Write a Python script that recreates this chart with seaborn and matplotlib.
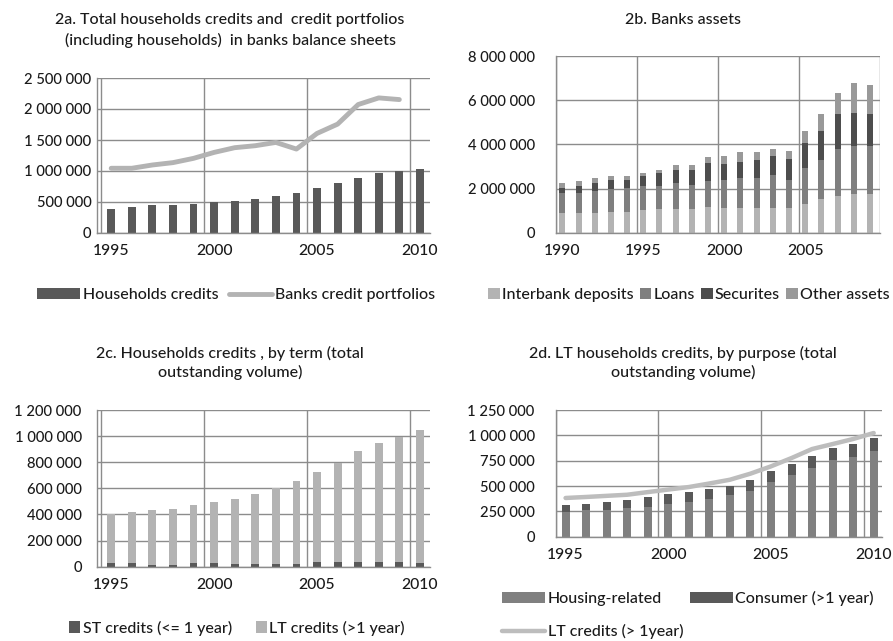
import matplotlib
matplotlib.use("Agg")
import matplotlib.pyplot as plt
import seaborn as sns
import numpy as np
import pandas as pd
from matplotlib.patches import Patch
from matplotlib.lines import Line2D
from matplotlib.ticker import FuncFormatter

# ---------------- data ----------------
years_a = list(range(1995, 2011))
households_credits = [391000, 418000, 444000, 444000, 471000, 508000, 519000, 546000,
                      594000, 653000, 723000, 808000, 883000, 963000, 1001000, 1033000]
years_line_a = list(range(1995, 2010))
banks_credit_portfolios = [1044000, 1044000, 1097000, 1135000, 1204000, 1300000, 1376000,
                           1408000, 1461000, 1354000, 1606000, 1756000, 2072000, 2179000, 2152000]

years_b = list(range(1990, 2010))
interbank = [0.89, 0.89, 0.89, 0.97, 0.97, 1.05, 1.09, 1.09, 1.09, 1.17,
             1.13, 1.13, 1.13, 1.13, 1.13, 1.31, 1.53, 1.68, 1.76, 1.76]
loans = [0.94, 0.94, 1.02, 1.01, 1.06, 1.06, 1.02, 1.17, 1.09, 1.16,
         1.28, 1.35, 1.35, 1.50, 1.28, 1.61, 1.75, 2.11, 2.18, 2.18]
securities = [0.19, 0.28, 0.35, 0.43, 0.38, 0.45, 0.60, 0.60, 0.68, 0.84,
              0.72, 0.72, 0.80, 0.86, 0.93, 1.17, 1.35, 1.58, 1.50, 1.43]
other_assets = [0.24, 0.22, 0.22, 0.15, 0.15, 0.15, 0.15, 0.23, 0.23, 0.25,
                0.36, 0.44, 0.36, 0.30, 0.36, 0.54, 0.75, 0.95, 1.36, 1.31]

years_c = list(range(1995, 2011))
st_credits = [26000, 26000, 16000, 16000, 26000, 26000, 24000, 24000,
              24000, 24000, 39000, 37000, 39000, 37000, 39000, 26000]
lt_credits = [380000, 395000, 416000, 428000, 444000, 470000, 495000, 533000,
              576000, 630000, 689000, 760000, 850000, 911000, 957000, 1021000]

years_d = list(range(1995, 2011))
housing_related = [243000, 260000, 266000, 283000, 293000, 326000, 342000, 375000,
                   408000, 454000, 536000, 612000, 678000, 753000, 786000, 849000]
consumer = [66000, 66000, 76000, 76000, 98000, 92000, 96000, 95000,
            89000, 108000, 109000, 108000, 121000, 122000, 128000, 125000]
lt_line = [382000, 392000, 403000, 414000, 440000, 465000, 490000, 525000,
           562000, 622000, 694000, 776000, 865000, 914000, 964000, 1023000]

# ---------------- style ----------------
sns.set_theme(style="white")
plt.rcParams['font.family'] = ['Lato', 'DejaVu Sans']
plt.rcParams['font.weight'] = 'medium'
plt.rcParams['font.size'] = 11

GRID = '#8c8c8c'
TXT = '#1a1a1a'
FS = 11.5      # titles / legends
FSX = 11.3     # x tick labels
FSY = 10.6     # y tick labels

fig = plt.figure(figsize=(8.93, 6.41), dpi=100)
W, H = 893, 641


def ax_at(l, r, t, b):
    return fig.add_axes([l / W, 1 - b / H, (r - l) / W, (b - t) / H])


def fmt(v, pos=None):
    return f"{int(round(v)):,}".replace(",", " ")


def style_axis(ax, xlim, grid_years, grid_off, label_years, yticks, ypad):
    ax.set_xlim(*xlim)
    ax.set_ylim(yticks[0], yticks[-1])
    ax.set_yticks(yticks)
    ax.yaxis.set_major_formatter(FuncFormatter(fmt))
    ax.set_xticks([g - grid_off for g in grid_years])
    ax.set_xticklabels([])
    ax.set_xticks(label_years, minor=True)
    ax.set_xticklabels([str(y) for y in label_years], minor=True)
    ax.tick_params(axis='x', which='major', length=5, width=1, color=GRID, direction='out')
    ax.tick_params(axis='x', which='minor', length=0, pad=8, labelsize=FSX, labelcolor=TXT)
    ax.tick_params(axis='y', which='major', length=3, width=1, color=GRID, direction='out',
                   pad=ypad, labelsize=FSY, labelcolor=TXT)
    ax.grid(True, which='major', color=GRID, lw=1.0)
    ax.set_axisbelow(True)
    for s in ['top', 'right']:
        ax.spines[s].set_visible(False)
    for s in ['left', 'bottom']:
        ax.spines[s].set_color(GRID)
        ax.spines[s].set_linewidth(1.0)
    ax.set_xlabel('')
    ax.set_ylabel('')


def bars(ax, x, y, color, width):
    sns.barplot(x=x, y=y, native_scale=True, width=width, color=color, saturation=1,
                errorbar=None, linewidth=0, ax=ax)


# ---------------- 2a ----------------
ax1 = ax_at(97, 430, 78, 233)
bars(ax1, years_a, households_credits, '#595959', 0.38)
sns.lineplot(x=years_line_a, y=banks_credit_portfolios, color='#b3b3b3', lw=3.5, ax=ax1,
             legend=False)
style_axis(ax1, (1994.31, 2010.49), [1995, 2000, 2005, 2010], 0.49,
           [1995, 2000, 2005, 2010], np.arange(0, 2500001, 500000), 1)
fig.text(230 / W, 1 - 30.5 / H,
         "2a. Total households credits and  credit portfolios\n(including households)  in banks balance sheets",
         ha='center', va='center', fontsize=FS, color=TXT, linespacing=1.45)
h1 = [Patch(facecolor='#595959', edgecolor='none'),
      Line2D([0], [0], color='#b3b3b3', lw=3.5)]
fig.legend(h1, ["Households credits", "Banks credit portfolios"], loc='center',
           bbox_to_anchor=(236 / W, 1 - 295 / H), ncol=2, frameon=False, fontsize=FS,
           handlelength=2.7, handleheight=0.7, handletextpad=0.15, columnspacing=0.7,
           borderpad=0, labelcolor=TXT)

# ---------------- 2b ----------------
ax2 = ax_at(555.7, 880, 56, 233)
ib = np.array(interbank) * 1e6
ln = np.array(loans) * 1e6
se = np.array(securities) * 1e6
ot = np.array(other_assets) * 1e6
bars(ax2, years_b, ib + ln + se + ot, '#999999', 0.37)
bars(ax2, years_b, ib + ln + se, '#4d4d4d', 0.37)
bars(ax2, years_b, ib + ln, '#7f7f7f', 0.37)
bars(ax2, years_b, ib, '#b3b3b3', 0.37)
style_axis(ax2, (1989.59, 2009.62), [1990, 1995, 2000, 2005, 2010], 0.41,
           [1990, 1995, 2000, 2005], np.arange(0, 8000001, 2000000), 12)
fig.text(683 / W, 1 - 20 / H, "2b. Banks assets", ha='center', va='center',
         fontsize=FS, color=TXT)
h2 = [Patch(facecolor=c, edgecolor='none') for c in ['#b3b3b3', '#7f7f7f', '#4d4d4d', '#999999']]
fig.legend(h2, ["Interbank deposits", "Loans", "Securites", "Other assets"], loc='center',
           bbox_to_anchor=(689 / W, 1 - 295 / H), ncol=4, frameon=False, fontsize=FS,
           handlelength=0.7, handleheight=0.7, handletextpad=0.15, columnspacing=0.4,
           borderpad=0, labelcolor=TXT)

# ---------------- 2c ----------------
ax3 = ax_at(97, 430, 410, 566.7)
tc = np.array(st_credits) + np.array(lt_credits)
bars(ax3, years_c, tc, '#b3b3b3', 0.38)
bars(ax3, years_c, st_credits, '#595959', 0.38)
style_axis(ax3, (1994.31, 2010.49), [1995, 2000, 2005, 2010], 0.49,
           [1995, 2000, 2005, 2010], np.arange(0, 1200001, 200000), 8)
fig.text(230 / W, 1 - 363 / H,
         "2c. Households credits , by term (total\noutstanding volume)",
         ha='center', va='center', fontsize=FS, color=TXT, linespacing=1.4)
h3 = [Patch(facecolor='#595959', edgecolor='none'), Patch(facecolor='#b3b3b3', edgecolor='none')]
fig.legend(h3, ["ST credits (<= 1 year)", "LT credits (>1 year)"], loc='center',
           bbox_to_anchor=(237 / W, 1 - 628 / H), ncol=2, frameon=False, fontsize=FS,
           handlelength=0.7, handleheight=0.7, handletextpad=0.15, columnspacing=1.5,
           borderpad=0, labelcolor=TXT)

# ---------------- 2d ----------------
ax4 = ax_at(555.5, 881.7, 410, 536.7)
td = np.array(housing_related) + np.array(consumer)
bars(ax4, years_d, td, '#595959', 0.39)
bars(ax4, years_d, housing_related, '#808080', 0.39)
sns.lineplot(x=years_d, y=lt_line, color='#bdbdbd', lw=3.2, ax=ax4, legend=False)
style_axis(ax4, (1994.52, 2010.39), [1995, 2000, 2005, 2010], 0.49,
           [1995, 2000, 2005, 2010], np.arange(0, 1250001, 250000), 12)
fig.text(683 / W, 1 - 363 / H,
         "2d. LT households credits, by purpose (total\noutstanding volume)",
         ha='center', va='center', fontsize=FS, color=TXT, linespacing=1.4)
h4 = [Patch(facecolor='#808080', edgecolor='none'),
      Line2D([0], [0], color='#bdbdbd', lw=3.2),
      Patch(facecolor='#595959', edgecolor='none')]
fig.legend(h4, ["Housing-related", "LT credits (> 1year)", "Consumer (>1 year)"],
           loc='center left', bbox_to_anchor=(502 / W, 1 - 615 / H), ncol=2, frameon=False,
           fontsize=FS, handlelength=2.7, handleheight=0.7, handletextpad=0.15,
           columnspacing=0.4, labelspacing=1.15, borderpad=0, borderaxespad=0, labelcolor=TXT)

fig.savefig("out.png", dpi=100)
